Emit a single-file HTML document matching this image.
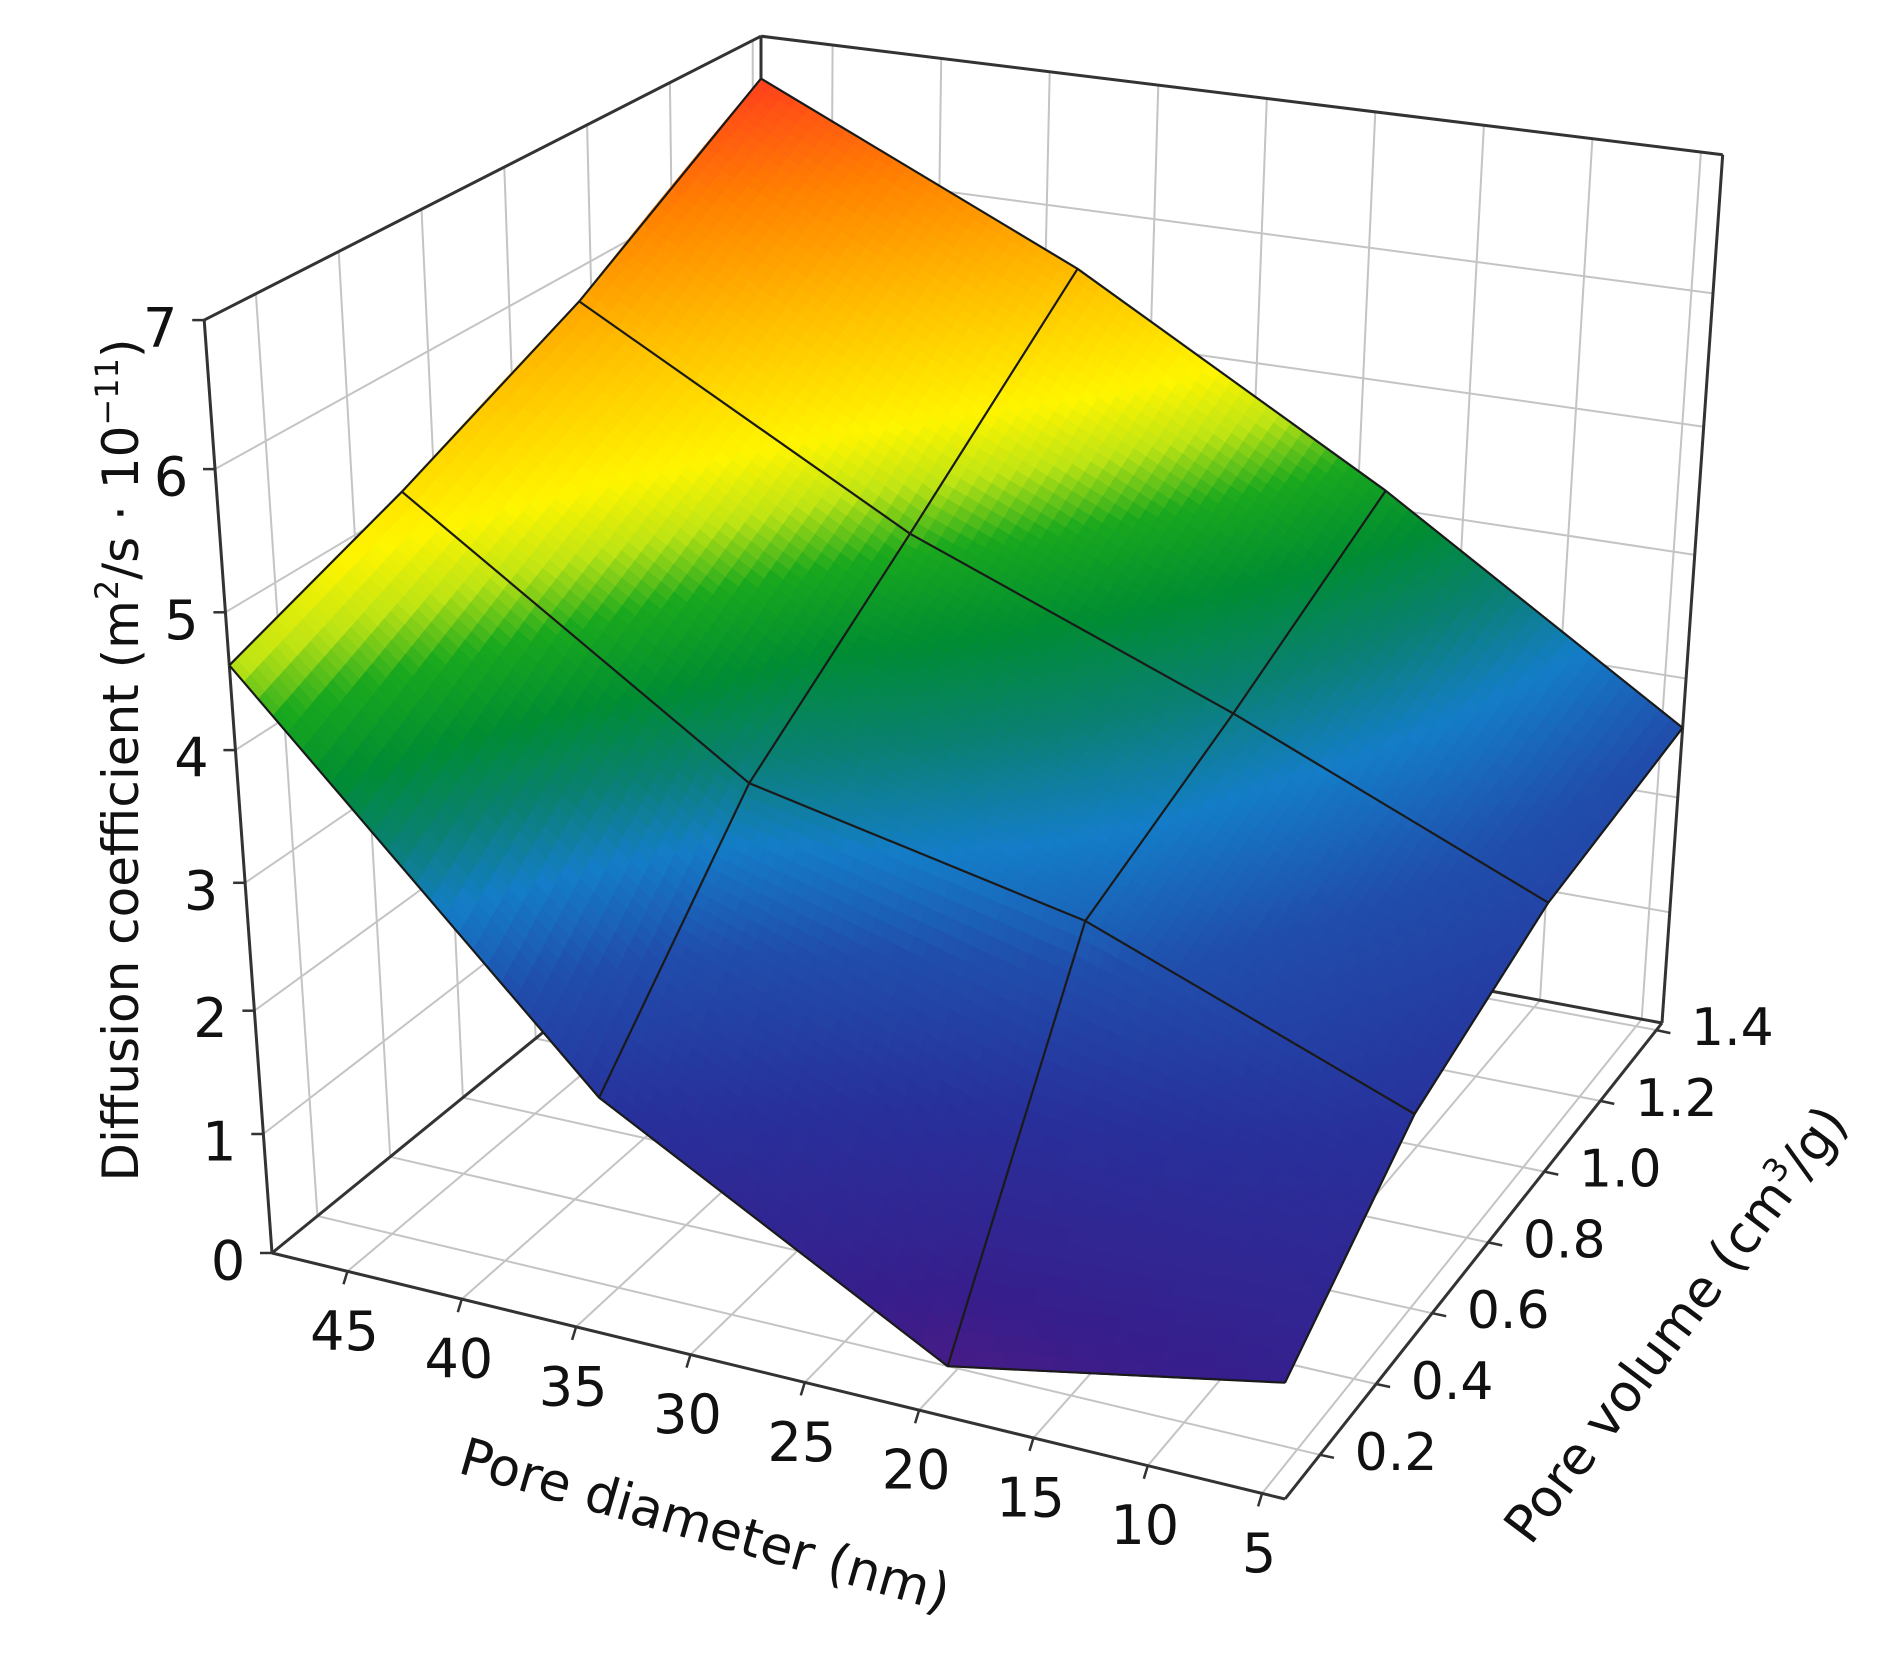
<!DOCTYPE html>
<html>
<head>
<meta charset="utf-8">
<style>
html,body{margin:0;padding:0;background:#fff;}
svg{display:block;}
text{font-family:"DejaVu Sans","Liberation Sans",sans-serif;fill:#111;}
</style>
</head>
<body>
<svg id="chart" width="1902" height="1655" viewBox="0 0 1902 1655" xmlns="http://www.w3.org/2000/svg">
  <g id="walls"></g>
  <g id="frame"></g>
  <g id="surface"></g>
  <g id="mesh"></g>
  <g id="ticks"></g>
  <text x="0" y="0" font-size="50" text-anchor="middle" transform="translate(138,760) rotate(-90)">Diffusion coefficient (m<tspan font-size="32" dy="-20">2</tspan><tspan dy="20">/s · 10</tspan><tspan font-size="32" dy="-20">−11</tspan><tspan dy="20">)</tspan></text>
  <text x="0" y="0" font-size="52" text-anchor="middle" transform="translate(700,1542) rotate(16)">Pore diameter (nm)</text>
  <text x="0" y="0" font-size="52" text-anchor="middle" transform="translate(1690,1335) rotate(-53)">Pore volume (cm<tspan font-size="32" dy="-20">3</tspan><tspan dy="20">/g)</tspan></text>
</svg>
<script>
// ---- data ----
const diameters = [48.3, 33.5, 18.7, 4.0];          // nm (grid columns)
const volumes = [0.075, 0.52, 0.97, 1.42];          // cm3/g (grid rows)
const diffV0 = [4.62, 1.93, 0.42, 0.93];
const diffV1 = [5.11, 3.39, 2.84, 1.86];
const diffV2 = [5.75, 4.38, 3.41, 2.36];
const diffV3 = [6.68, 5.54, 4.14, 2.59];
const zTicks = [0,1,2,3,4,5,6,7];
const dTicks = [45,40,35,30,25,20,15,10,5];
const vTicks = [0.2,0.4,0.6,0.8,1.0,1.2,1.4];
const vTickLabels = ["0.2","0.4","0.6","0.8","1.0","1.2","1.4"];

// ---- axis ranges / projection ----
const D_MIN=4.0, D_MAX=48.3, V_MIN=0.075, V_MAX=1.42, Z_MAX=7;
const F=[[272,1253],[1285,1499],[1662,1023],[761,855]];
const KY=[-116.9,-123,-108.8,-102.6];
const KX=[-8.5,0,7.6,0];
const B=0.01755;
function proj(d,v,z){
  const s=(D_MAX-d)/(D_MAX-D_MIN), t=(v-V_MIN)/(V_MAX-V_MIN);
  const w=[(1-s)*(1-t), s*(1-t), s*t, (1-s)*t];
  let px=0,py=0,ky=0,kx=0;
  for(let i=0;i<4;i++){px+=w[i]*F[i][0];py+=w[i]*F[i][1];ky+=w[i]*KY[i];kx+=w[i]*KX[i];}
  const f=z/(1-B*z);
  return [px+kx*f, py+ky*f, py];
}
const NS="http://www.w3.org/2000/svg";
function line(g,a,b,stroke,w){
  const l=document.createElementNS(NS,'line');
  l.setAttribute('x1',a[0].toFixed(1));l.setAttribute('y1',a[1].toFixed(1));
  l.setAttribute('x2',b[0].toFixed(1));l.setAttribute('y2',b[1].toFixed(1));
  l.setAttribute('stroke',stroke);l.setAttribute('stroke-width',w);
  g.appendChild(l);return l;
}
function txt(g,x,y,s,size){
  const t=document.createElementNS(NS,'text');
  t.setAttribute('x',x.toFixed(1));t.setAttribute('y',y.toFixed(1));
  t.setAttribute('font-size',size);t.setAttribute('text-anchor','middle');
  t.setAttribute('dominant-baseline','central');
  t.textContent=s;g.appendChild(t);return t;
}
const walls=document.getElementById('walls');
const GC='#c4c4c4';
vTicks.forEach(v=>{const l=line(walls,proj(D_MAX,v,0),proj(D_MAX,v,Z_MAX),GC,2);

});
zTicks.forEach(z=>{const l=line(walls,proj(D_MAX,V_MIN,z),proj(D_MAX,V_MAX,z),GC,2);

});
dTicks.forEach(d=>{const l=line(walls,proj(d,V_MAX,0),proj(d,V_MAX,Z_MAX),GC,2);

});
zTicks.forEach(z=>{const l=line(walls,proj(D_MAX,V_MAX,z),proj(D_MIN,V_MAX,z),GC,2);

});
dTicks.forEach(d=>{const l=line(walls,proj(d,V_MIN,0),proj(d,V_MAX,0),GC,2);

});
vTicks.forEach(v=>{const l=line(walls,proj(D_MAX,v,0),proj(D_MIN,v,0),GC,2);

});
const frame=document.getElementById('frame');
const FC='#333';
const c000=proj(D_MAX,V_MIN,0), c100=proj(D_MIN,V_MIN,0), c110=proj(D_MIN,V_MAX,0), c010=proj(D_MAX,V_MAX,0);
const c001=proj(D_MAX,V_MIN,Z_MAX), c011=proj(D_MAX,V_MAX,Z_MAX), c111=proj(D_MIN,V_MAX,Z_MAX);
[[c000,c001],[c001,c011],[c011,c111],[c111,c110],[c000,c100],[c100,c110],[c000,c010],[c010,c110],[c010,c011]].forEach(p=>{
  const l=line(frame,p[0],p[1],FC,3);
  
  
});
const cmap=[[0,[90,26,128]],[0.8,[55,30,140]],[1.8,[40,48,155]],[2.6,[32,78,172]],[3.1,[20,125,200]],[3.5,[10,128,115]],[3.9,[0,140,50]],[4.3,[25,168,30]],[4.6,[190,228,20]],[4.9,[255,245,0]],[5.5,[255,190,0]],[6.1,[255,130,0]],[6.7,[255,60,30]]];
function color(z){
  if(z<=cmap[0][0])return 'rgb('+cmap[0][1]+')';
  for(let i=1;i<cmap.length;i++){
    if(z<=cmap[i][0]){const a=cmap[i-1],b=cmap[i],u=(z-a[0])/(b[0]-a[0]);
      return 'rgb('+a[1].map((c,k)=>Math.round(c+(b[1][k]-c)*u)).join(',')+')';}
  }
  return 'rgb('+cmap[cmap.length-1][1]+')';
}
const rows=[diffV0,diffV1,diffV2,diffV3];
const surf=document.getElementById('surface');
const N=26, polys=[];
for(let j=0;j<volumes.length-1;j++){
  for(let i=0;i<diameters.length-1;i++){
    for(let a=0;a<N;a++)for(let b=0;b<N;b++){
      const pts=[],zs=[];let fy=0;
      [[a,b],[a+1,b],[a+1,b+1],[a,b+1]].forEach(q=>{
        const u=q[0]/N, w=q[1]/N;
        const d=diameters[i]+(diameters[i+1]-diameters[i])*u;
        const v=volumes[j]+(volumes[j+1]-volumes[j])*w;
        const z=(1-u)*(1-w)*rows[j][i]+u*(1-w)*rows[j][i+1]+u*w*rows[j+1][i+1]+(1-u)*w*rows[j+1][i];
        const p=proj(d,v,z);pts.push(p);zs.push(z);fy+=p[2];
      });
      polys.push({pts:pts,z:(zs[0]+zs[1]+zs[2]+zs[3])/4,fy:fy});
    }
  }
}
polys.sort((p,q)=>p.fy-q.fy);
polys.forEach(p=>{
  const el=document.createElementNS(NS,'polygon');
  el.setAttribute('points',p.pts.map(q=>q[0].toFixed(1)+','+q[1].toFixed(1)).join(' '));
  const c=color(p.z);
  el.setAttribute('fill',c);el.setAttribute('stroke',c);el.setAttribute('stroke-width','1.2');
  
  
  surf.appendChild(el);
});
const mesh=document.getElementById('mesh');
function meshPath(ptsArr,name){
  const p=document.createElementNS(NS,'polyline');
  p.setAttribute('points',ptsArr.map(q=>q[0].toFixed(1)+','+q[1].toFixed(1)).join(' '));
  p.setAttribute('fill','none');p.setAttribute('stroke','#1a1a1a');p.setAttribute('stroke-width','2.2');
  p.setAttribute('stroke-linejoin','round');
  
  
  mesh.appendChild(p);
}
rows.forEach((r,j)=>meshPath(diameters.map((d,i)=>proj(d,volumes[j],r[i])),'mesh-line-volume'));
diameters.forEach((d,i)=>meshPath(volumes.map((v,j)=>proj(d,v,rows[j][i])),'mesh-line-diameter'));
const tk=document.getElementById('ticks');
zTicks.forEach(z=>{const p=proj(D_MAX,V_MIN,z);
  const l=line(tk,p,[p[0]-12,p[1]],FC,2.5);
  
  
  const t=txt(tk,p[0]-44,p[1]+8,String(z),54);
  
  
});
dTicks.forEach(d=>{const p=proj(d,V_MIN,0);
  const l=line(tk,p,[p[0]-4,p[1]+13],FC,2.5);
  
  
  const t=txt(tk,p[0]-3,p[1]+60,String(d),54);
  
  
});
vTicks.forEach((v,k)=>{const p=proj(D_MIN,v,0);
  const l=line(tk,p,[p[0]+14,p[1]+3],FC,2.5);
  
  
  const t=txt(tk,p[0]+76,p[1]-2,vTickLabels[k],52);
  
  
});
</script>
</body>
</html>
